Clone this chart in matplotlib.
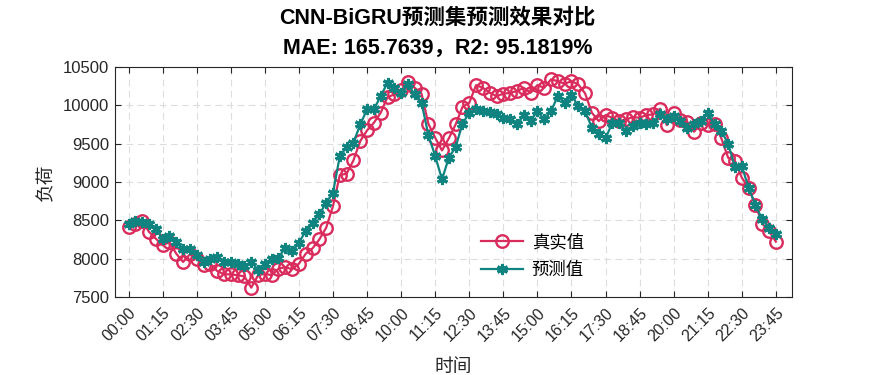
import numpy as np
import matplotlib
matplotlib.use('Agg')
from matplotlib import pyplot as plt

# 96 points, one every 15 minutes
times = ['%02d:%02d' % (m // 60, m % 60) for m in range(0, 24 * 60, 15)]

true_vals = [8413, 8448, 8495, 8350, 8261, 8174, 8217, 8065, 7957, 8057,
             8000, 7913, 7935, 7839, 7796, 7796, 7783, 7770, 7622, 7783,
             7804, 7783, 7870, 7891, 7861, 7935, 8065, 8135, 8252, 8404,
             8687, 9091, 9109, 9283, 9535, 9674, 9774, 9904, 10109, 10143,
             10196, 10309, 10230, 10152, 9761, 9578, 9413, 9570, 9752, 9980,
             10035, 10265, 10230, 10165, 10122, 10152, 10165, 10187, 10230, 10165,
             10265, 10230, 10340, 10317, 10283, 10317, 10274, 10157, 9904, 9796,
             9874, 9839, 9796, 9817, 9848, 9839, 9874, 9883, 9957, 9743,
             9904, 9804, 9787, 9657, 9774, 9743, 9761, 9570, 9317, 9274,
             9057, 8926, 8700, 8457, 8361, 8222]

pred_vals = [8457, 8491, 8478, 8457, 8391, 8261, 8291, 8217, 8130, 8122,
             8043, 7957, 8000, 8022, 7957, 7957, 7926, 7900, 7957, 7857,
             7935, 8000, 8013, 8143, 8100, 8209, 8361, 8470, 8578, 8730,
             8861, 9339, 9457, 9513, 9752, 9948, 9948, 10122, 10296, 10230,
             10165, 10274, 10143, 10035, 9613, 9339, 9035, 9317, 9457, 9761,
             9904, 9948, 9926, 9913, 9891, 9830, 9817, 9761, 9870, 9796,
             9926, 9817, 9926, 10122, 10035, 10135, 9991, 9926, 9709, 9622,
             9570, 9774, 9774, 9665, 9730, 9774, 9761, 9774, 9891, 9817,
             9861, 9796, 9709, 9752, 9796, 9904, 9752, 9665, 9500, 9196,
             9209, 8926, 8700, 8513, 8404, 8317]

red = '#DA2C5C'
teal = '#0E8380'
latin = 'Liberation Sans'
cjk = ['Noto Sans CJK SC', 'DejaVu Sans']

fig = plt.figure(figsize=(8.75, 3.75), dpi=100)
ax = fig.add_axes([0.131, 0.208, 0.774, 0.613])

x = np.arange(len(times))
ax.plot(x, true_vals, '-', color=red, lw=1.6, marker='o', ms=9,
        mfc='none', mec=red, mew=1.7, label='真实值')
ax.plot(x, pred_vals, '-', color=teal, lw=1.6, marker=(6, 2, 0), ms=8,
        mec=teal, mew=2.2, label='预测值')

ax.set_xlim(-2.05, 97.35)
ax.set_ylim(7500, 10500)
ax.set_yticks(np.arange(7500, 10501, 500))
ax.set_xticks(x[::5])
ax.set_xticklabels(times[::5], rotation=45, ha='right', rotation_mode='anchor',
                   family=latin, fontsize=11.5)
for lab in ax.get_yticklabels():
    lab.set_family(latin)
    lab.set_fontsize(12)

ax.tick_params(direction='in', top=True, right=True, length=4, width=0.8,
               color='#262626', labelcolor='#262626', pad=4)
ax.tick_params(axis='x', pad=6)
for s in ax.spines.values():
    s.set_linewidth(0.8)
    s.set_color('#262626')
ax.grid(True, ls=(0, (6, 4)), color='#DDDDDD', lw=0.8)
ax.set_axisbelow(True)

ax.set_xlabel('时间', family=cjk, fontsize=13.5, color='#262626', labelpad=8)
ax.set_ylabel('负荷', family=cjk, fontsize=13.5, color='#262626', labelpad=5)

fig.text(0.5, 0.950, 'CNN-BiGRU预测集预测效果对比', ha='center', va='center',
         family=[latin] + cjk, fontsize=15.5, weight='bold')
fig.text(0.5, 0.872, 'MAE: 165.7639，R2: 95.1819%', ha='center', va='center',
         family=[latin] + cjk, fontsize=15.5, weight='bold')

leg = ax.legend(loc='center', bbox_to_anchor=(0.617, 0.178), frameon=False,
                prop={'family': cjk, 'size': 12.5}, handlelength=2.4,
                labelspacing=0.55, handletextpad=0.5)

fig.savefig('out.png', dpi=100)
